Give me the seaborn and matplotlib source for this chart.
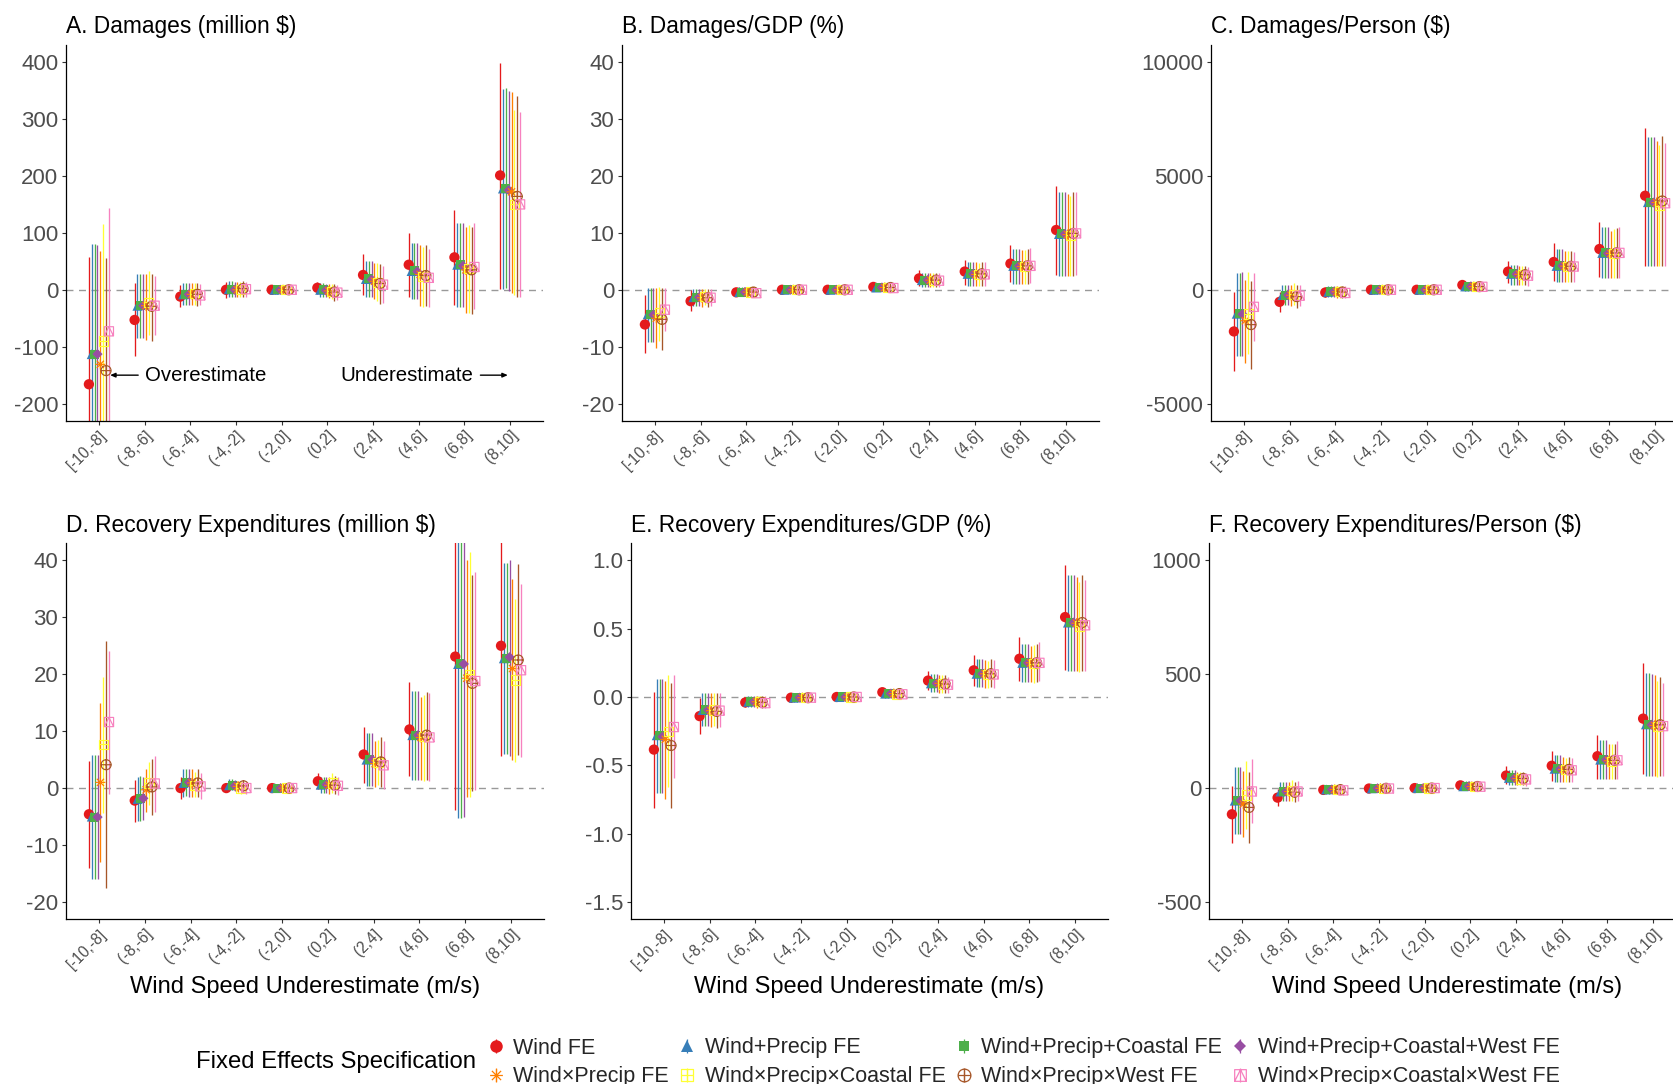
import numpy as np
import pandas as pd
import matplotlib
matplotlib.use("Agg")
import matplotlib.pyplot as plt
from matplotlib.path import Path
from matplotlib.lines import Line2D
import seaborn as sns

# ---------------- data ----------------
categories = ["[-10,-8]", "(-8,-6]", "(-6,-4]", "(-4,-2]", "(-2,0]",
              "(0,2]", "(2,4]", "(4,6]", "(6,8]", "(8,10]"]
series = ["Wind FE", "Wind+Precip FE", "Wind+Precip+Coastal FE", "Wind+Precip+Coastal+West FE",
          "Wind\u00d7Precip FE", "Wind\u00d7Precip\u00d7Coastal FE", "Wind\u00d7Precip\u00d7West FE",
          "Wind\u00d7Precip\u00d7Coastal\u00d7West FE"]
colors = ["#E41A1C", "#377EB8", "#4DAF4A", "#984EA3", "#FF7F00", "#FFFF33", "#A65628", "#F781BF"]

# Panel A: Damages (million $)  rows = series, cols = categories
A_est = [[-166, -53, -12, 0, 0, 3.5, 26, 44, 57, 201],
         [-113, -28, -8, 1, 0, 0, 19, 33, 44, 178],
         [-113, -28, -8, 1, 0, 0, 19, 33, 44, 178],
         [-113, -28, -8, 0, 0, -1, 18, 32, 42, 175],
         [-131, -28, -8, 0, 0, -2, 15, 27, 35, 172],
         [-90, -22, -7, 1, 0, -3, 13, 24, 38, 150],
         [-142, -29, -8, 2, 0, -4, 11, 25, 35, 164],
         [-73, -28, -10, 1, 0, -5, 9, 21, 40, 150]]
A_lo = [[-389, -117, -30, -14, -8, -8, -9, -12, -26, 2],
        [-306, -85, -26, -13, -8, -12, -12, -17, -30, 2],
        [-306, -85, -26, -13, -8, -12, -12, -17, -30, 3],
        [-304, -85, -26, -13, -8, -13, -13, -17, -31, -2],
        [-330, -88, -27, -13, -8, -15, -17, -28, -40, -5],
        [-296, -80, -26, -12, -8, -16, -20, -30, -40, -10],
        [-339, -90, -28, -12, -8, -20, -25, -28, -42, -12],
        [-290, -80, -27, -12, -8, -18, -24, -30, -33, -12]]
A_hi = [[57, 12, 8, 14, 8, 14, 62, 100, 140, 398],
        [80, 28, 12, 15, 8, 12, 50, 83, 118, 353],
        [80, 28, 12, 15, 8, 12, 50, 83, 118, 354],
        [78, 28, 12, 14, 8, 11, 50, 83, 117, 350],
        [68, 27, 12, 14, 8, 11, 47, 78, 110, 348],
        [116, 33, 12, 14, 8, 11, 47, 75, 114, 315],
        [55, 27, 12, 16, 8, 10, 46, 78, 110, 340],
        [144, 24, 11, 14, 8, 9, 42, 72, 117, 312]]

# Panel B: Damages/GDP (%)
B_est = [[-6.1, -2.0, -0.45, 0.0, 0.0, 0.5, 2.0, 3.2, 4.6, 10.5],
         [-4.3, -1.3, -0.4, 0.0, 0.0, 0.4, 1.7, 2.8, 4.2, 9.8],
         [-4.3, -1.3, -0.4, 0.0, 0.0, 0.4, 1.7, 2.8, 4.2, 9.8],
         [-4.4, -1.3, -0.4, 0.0, 0.0, 0.4, 1.7, 2.8, 4.2, 9.8],
         [-5.0, -1.4, -0.4, 0.0, 0.0, 0.4, 1.7, 2.7, 4.1, 9.7],
         [-4.0, -1.2, -0.4, 0.0, 0.0, 0.4, 1.6, 2.7, 4.1, 9.6],
         [-5.2, -1.4, -0.4, 0.0, 0.0, 0.4, 1.7, 2.8, 4.2, 9.9],
         [-3.5, -1.4, -0.6, 0.0, 0.0, 0.3, 1.6, 2.7, 4.2, 9.9]]
B_lo = [[-11.1, -3.8, -1.1, -0.6, -0.5, -0.2, 0.6, 0.9, 1.3, 2.6],
        [-9.1, -2.8, -1.0, -0.5, -0.5, -0.2, 0.4, 0.7, 1.1, 2.5],
        [-9.1, -2.8, -1.0, -0.5, -0.5, -0.2, 0.4, 0.7, 1.1, 2.5],
        [-9.1, -2.8, -1.0, -0.5, -0.5, -0.2, 0.4, 0.7, 1.1, 2.5],
        [-10.2, -3.0, -1.1, -0.6, -0.5, -0.3, 0.4, 0.7, 1.1, 2.5],
        [-9.0, -2.6, -1.0, -0.6, -0.5, -0.3, 0.4, 0.7, 1.1, 2.5],
        [-10.6, -3.1, -1.1, -0.6, -0.5, -0.3, 0.4, 0.7, 1.1, 2.5],
        [-7.3, -2.9, -1.2, -0.6, -0.5, -0.3, 0.4, 0.7, 1.2, 2.6]]
B_hi = [[-1.0, -0.1, 0.3, 0.6, 0.5, 1.1, 3.4, 5.3, 7.8, 18.2],
        [0.35, 0.2, 0.4, 0.6, 0.5, 1.0, 3.0, 4.9, 7.2, 17.1],
        [0.35, 0.2, 0.4, 0.6, 0.5, 1.0, 3.0, 4.9, 7.2, 17.1],
        [0.3, 0.2, 0.4, 0.6, 0.5, 1.0, 3.0, 4.9, 7.2, 17.1],
        [0.3, 0.1, 0.4, 0.6, 0.5, 1.0, 3.0, 4.8, 7.0, 16.8],
        [0.4, 0.2, 0.4, 0.6, 0.5, 1.0, 3.0, 4.7, 7.0, 16.5],
        [0.3, 0.1, 0.4, 0.6, 0.5, 1.0, 3.0, 4.8, 7.2, 17.2],
        [0.3, 0.2, 0.3, 0.6, 0.5, 1.0, 3.0, 4.8, 7.3, 17.2]]

# Panel C: Damages/Person ($)
C_est = [[-1830, -530, -120, 0, 0, 210, 800, 1220, 1790, 4130],
         [-1050, -230, -90, 0, 0, 150, 700, 1050, 1620, 3850],
         [-1050, -230, -90, 0, 0, 150, 700, 1050, 1620, 3850],
         [-1070, -230, -90, 0, 0, 150, 690, 1050, 1600, 3830],
         [-1360, -240, -90, 0, 0, 140, 680, 1040, 1600, 3830],
         [-1060, -200, -90, 0, 0, 130, 660, 1030, 1580, 3700],
         [-1530, -300, -100, 0, 0, 140, 660, 1030, 1620, 3900],
         [-750, -260, -140, 0, 0, 130, 620, 1020, 1620, 3800]]
C_lo = [[-3570, -990, -330, -200, -200, -20, 280, 400, 560, 1050],
        [-2900, -680, -330, -200, -200, -60, 200, 350, 500, 1050],
        [-2900, -680, -330, -200, -200, -60, 200, 350, 500, 1050],
        [-2900, -680, -330, -200, -200, -60, 200, 350, 500, 1050],
        [-3200, -700, -340, -200, -200, -70, 200, 330, 500, 1050],
        [-2820, -680, -340, -200, -200, -70, 190, 330, 500, 1050],
        [-3470, -780, -340, -200, -200, -70, 190, 340, 520, 1050],
        [-2270, -700, -350, -200, -200, -70, 180, 340, 520, 1050]]
C_hi = [[-100, -90, 100, 200, 200, 380, 1280, 2050, 2980, 7100],
        [750, 220, 170, 200, 200, 360, 1100, 1780, 2750, 6700],
        [750, 220, 170, 200, 200, 360, 1100, 1780, 2750, 6700],
        [760, 220, 170, 200, 200, 360, 1100, 1780, 2750, 6700],
        [450, 220, 170, 200, 200, 340, 1050, 1700, 2600, 6550],
        [800, 280, 170, 200, 200, 340, 1050, 1700, 2650, 6350],
        [400, 200, 160, 200, 200, 340, 1050, 1720, 2700, 6750],
        [750, 200, 150, 200, 200, 330, 1000, 1650, 2750, 6450]]

# Panel D: Recovery Expenditures (million $)
D_est = [[-4.6, -2.2, 0.0, 0.0, 0.0, 1.2, 5.9, 10.3, 23.1, 25.0],
         [-5.0, -1.9, 0.9, 0.5, 0.0, 0.6, 5.0, 9.3, 21.8, 22.8],
         [-5.1, -1.8, 1.0, 0.5, 0.0, 0.6, 5.0, 9.3, 21.8, 22.8],
         [-5.1, -1.8, 1.0, 0.4, 0.0, 0.6, 5.0, 9.3, 21.8, 23.0],
         [1.0, -0.3, 0.9, 0.3, 0.0, 0.5, 4.3, 8.9, 19.3, 21.0],
         [7.7, 0.9, 0.5, 0.0, 0.0, 0.9, 4.5, 9.0, 20.0, 19.0],
         [4.1, 0.2, 0.9, 0.4, 0.0, 0.5, 4.6, 9.3, 18.4, 22.5],
         [11.6, 0.8, 0.3, 0.0, 0.0, 0.4, 4.0, 8.9, 18.8, 20.7]]
D_lo = [[-14.0, -5.9, -2.0, -0.6, -0.3, -0.2, 0.9, 2.1, -3.9, 5.6],
        [-16.0, -5.7, -1.5, -0.4, -0.6, -0.9, 0.4, 1.5, -5.2, 5.9],
        [-16.0, -5.7, -1.4, -0.4, -0.6, -0.9, 0.4, 1.5, -5.3, 5.9],
        [-16.0, -5.6, -1.5, -0.5, -0.6, -0.9, 0.4, 1.5, -5.0, 5.7],
        [-13.0, -4.2, -1.6, -0.7, -0.6, -1.0, 0.2, 1.5, -1.5, 4.9],
        [-4.4, -2.9, -1.6, -1.0, -0.6, -0.8, 0.5, 1.2, -1.5, 4.6],
        [-17.5, -4.8, -1.6, -0.5, -0.6, -1.0, 0.2, 1.4, -0.6, 5.8],
        [-1.0, -4.2, -1.9, -1.0, -0.6, -1.2, -0.2, 1.3, -0.4, 5.4]]
D_hi = [[4.7, 1.5, 2.0, 0.6, 0.3, 2.6, 10.8, 18.6, 50.0, 46.0],
        [5.8, 2.0, 3.4, 1.6, 0.6, 2.0, 9.6, 17.0, 48.0, 39.5],
        [5.8, 2.1, 3.4, 1.6, 0.6, 2.0, 9.6, 17.0, 48.0, 39.5],
        [5.8, 2.0, 3.4, 1.5, 0.6, 2.0, 9.6, 17.0, 48.0, 40.0],
        [14.9, 3.4, 3.3, 1.3, 0.6, 2.0, 8.3, 16.0, 40.1, 36.8],
        [19.6, 4.6, 2.8, 1.0, 0.6, 2.6, 8.4, 16.3, 41.4, 33.2],
        [25.8, 5.1, 3.4, 1.2, 0.6, 2.1, 8.9, 16.9, 37.4, 39.3],
        [24.0, 5.6, 2.6, 1.0, 0.6, 2.0, 8.3, 16.7, 38.0, 35.8]]

# Panel E: Recovery Expenditures/GDP (%)
E_est = [[-0.385, -0.14, -0.04, -0.005, 0.0, 0.035, 0.12, 0.195, 0.28, 0.585],
         [-0.28, -0.095, -0.035, -0.005, 0.0, 0.025, 0.10, 0.17, 0.25, 0.545],
         [-0.28, -0.095, -0.035, -0.005, 0.0, 0.025, 0.10, 0.17, 0.25, 0.545],
         [-0.29, -0.095, -0.035, -0.005, 0.0, 0.025, 0.10, 0.17, 0.25, 0.545],
         [-0.31, -0.10, -0.035, -0.005, 0.0, 0.025, 0.10, 0.17, 0.25, 0.54],
         [-0.25, -0.095, -0.035, -0.005, 0.0, 0.02, 0.095, 0.165, 0.245, 0.52],
         [-0.355, -0.105, -0.04, -0.005, 0.0, 0.025, 0.095, 0.17, 0.25, 0.545],
         [-0.22, -0.10, -0.045, -0.005, 0.0, 0.02, 0.09, 0.165, 0.25, 0.525]]
E_lo = [[-0.81, -0.27, -0.075, -0.035, -0.03, 0.005, 0.05, 0.08, 0.12, 0.20],
        [-0.70, -0.21, -0.075, -0.04, -0.03, -0.005, 0.035, 0.07, 0.11, 0.19],
        [-0.70, -0.21, -0.075, -0.04, -0.03, -0.005, 0.035, 0.07, 0.11, 0.19],
        [-0.70, -0.21, -0.075, -0.04, -0.03, -0.005, 0.035, 0.07, 0.11, 0.19],
        [-0.75, -0.22, -0.08, -0.04, -0.03, -0.005, 0.03, 0.065, 0.11, 0.19],
        [-0.66, -0.21, -0.075, -0.04, -0.03, -0.01, 0.03, 0.065, 0.105, 0.185],
        [-0.81, -0.23, -0.08, -0.04, -0.03, -0.005, 0.03, 0.07, 0.11, 0.19],
        [-0.59, -0.22, -0.08, -0.04, -0.03, -0.01, 0.03, 0.065, 0.115, 0.19]]
E_hi = [[0.04, -0.01, 0.0, 0.025, 0.03, 0.065, 0.19, 0.31, 0.44, 0.965],
        [0.13, 0.03, 0.01, 0.03, 0.03, 0.06, 0.17, 0.28, 0.39, 0.89],
        [0.13, 0.03, 0.01, 0.03, 0.03, 0.06, 0.17, 0.28, 0.39, 0.89],
        [0.13, 0.03, 0.01, 0.03, 0.03, 0.06, 0.17, 0.28, 0.39, 0.89],
        [0.12, 0.03, 0.01, 0.03, 0.03, 0.06, 0.16, 0.27, 0.37, 0.88],
        [0.16, 0.03, 0.01, 0.03, 0.03, 0.06, 0.16, 0.26, 0.38, 0.84],
        [0.10, 0.03, 0.01, 0.035, 0.03, 0.06, 0.16, 0.28, 0.39, 0.89],
        [0.16, 0.03, 0.005, 0.03, 0.03, 0.055, 0.15, 0.27, 0.40, 0.86]]

# Panel F: Recovery Expenditures/Person ($)
F_est = [[-115, -42, -8, -2, 0, 12, 55, 98, 140, 305],
         [-55, -15, -6, -1, 0, 8, 45, 85, 125, 280],
         [-55, -15, -6, -1, 0, 8, 45, 85, 125, 280],
         [-55, -15, -6, -1, 0, 8, 44, 84, 124, 278],
         [-70, -15, -6, -1, 0, 7, 42, 82, 120, 275],
         [-30, -12, -6, -1, 0, 7, 40, 80, 118, 270],
         [-85, -18, -7, -1, 0, 7, 42, 82, 122, 278],
         [-15, -15, -10, -2, 0, 6, 38, 78, 122, 272]]
F_lo = [[-240, -80, -25, -18, -15, -8, 18, 30, 40, 60],
        [-200, -55, -27, -18, -18, -10, 15, 28, 40, 55],
        [-200, -55, -27, -18, -18, -10, 15, 28, 40, 55],
        [-200, -55, -27, -18, -18, -10, 15, 28, 40, 55],
        [-215, -55, -28, -18, -18, -12, 12, 27, 38, 52],
        [-180, -55, -28, -18, -18, -12, 12, 26, 38, 50],
        [-240, -60, -28, -18, -18, -12, 12, 26, 38, 55],
        [-155, -55, -30, -20, -18, -12, 10, 25, 40, 55]]
F_hi = [[10, -5, 10, 15, 15, 30, 95, 165, 235, 550],
        [92, 28, 15, 18, 18, 30, 78, 145, 210, 505],
        [92, 28, 15, 18, 18, 30, 78, 145, 210, 505],
        [92, 28, 15, 18, 18, 30, 78, 145, 210, 500],
        [75, 28, 15, 18, 18, 28, 72, 135, 195, 495],
        [120, 35, 15, 18, 18, 28, 70, 130, 195, 470],
        [70, 25, 15, 18, 18, 28, 72, 135, 195, 490],
        [128, 30, 12, 16, 18, 26, 68, 130, 205, 460]]

titles = ["A. Damages (million $)", "B. Damages/GDP (%)", "C. Damages/Person ($)",
          "D. Recovery Expenditures (million $)", "E. Recovery Expenditures/GDP (%)",
          "F. Recovery Expenditures/Person ($)"]
yticks_A = [-200, -100, 0, 100, 200, 300, 400]
yticks_B = [-20, -10, 0, 10, 20, 30, 40]
yticks_C = [-5000, 0, 5000, 10000]
yticks_D = [-20, -10, 0, 10, 20, 30, 40]
yticks_E = [-1.5, -1.0, -0.5, 0.0, 0.5, 1.0]
yticks_F = [-500, 0, 500, 1000]
xlabel = "Wind Speed Underestimate (m/s)"
legend_title = "Fixed Effects Specification"

# ---------------- style ----------------
sns.set_style("ticks")
plt.rcParams["font.family"] = ["Liberation Sans", "DejaVu Sans"]
plt.rcParams["axes.unicode_minus"] = False

W, H = 1673, 1084
fig = plt.figure(figsize=(W / 100, H / 100), dpi=100)


def seg(a, b):
    return Path([a, b], [Path.MOVETO, Path.LINETO])


square = Path([(-1, -1), (1, -1), (1, 1), (-1, 1), (-1, -1)],
              [Path.MOVETO, Path.LINETO, Path.LINETO, Path.LINETO, Path.CLOSEPOLY])
asterisk = Path.make_compound_path(seg((-1, 0), (1, 0)), seg((0, -1), (0, 1)),
                                   seg((-0.72, -0.72), (0.72, 0.72)), seg((-0.72, 0.72), (0.72, -0.72)))
sq_plus = Path.make_compound_path(square, seg((-1, 0), (1, 0)), seg((0, -1), (0, 1)))
circ_plus = Path.make_compound_path(Path.unit_circle(), seg((-1, 0), (1, 0)), seg((0, -1), (0, 1)))
sq_tri = Path.make_compound_path(square, Path([(-1, -1), (0, 1), (1, -1)],
                                              [Path.MOVETO, Path.LINETO, Path.LINETO]))
markers = ["o", "^", "s", "D", asterisk, sq_plus, circ_plus, sq_tri]
filled = [True, True, True, True, False, False, False, False]
msize = [55, 52, 42, 27, 52, 44, 52, 44]
leg_msize = [9.0, 9.0, 7.8, 6.4, 9.2, 8.4, 9.2, 8.4]

dodge = 0.0625
TICK_GRAY = "#4D4D4D"


def panel(rect_px, est, lo, hi, title, yticks, ylim, fmt, show_xlabel):
    l, t, r, b = rect_px
    ax = fig.add_axes([l / W, 1 - b / H, (r - l) / W, (b - t) / H])
    x0 = np.arange(len(categories))
    ax.axhline(0, color="#999999", lw=1.0, ls=(0, (5, 4)), zorder=1)
    for i in range(len(series)):
        xs = x0 + (i - 3.5) * dodge
        ax.vlines(xs, lo[i], hi[i], color=colors[i], lw=0.95, zorder=2)
    for i in range(len(series)):
        xs = x0 + (i - 3.5) * dodge
        df = pd.DataFrame({"x": xs, "y": est[i]})
        if filled[i]:
            sns.scatterplot(data=df, x="x", y="y", ax=ax, marker=markers[i], s=msize[i],
                            color=colors[i], edgecolor="none", linewidth=0,
                            legend=False, zorder=3)
        else:
            sns.scatterplot(data=df, x="x", y="y", ax=ax, marker=markers[i], s=msize[i],
                            facecolor="none", edgecolor=colors[i], linewidth=0.85,
                            legend=False, zorder=3)
    ax.set_xlim(-0.72, 9.72)
    ax.set_ylim(*ylim)
    ax.set_xticks(x0)
    ax.set_xticklabels(categories, rotation=45, ha="right", va="top",
                       rotation_mode="anchor", fontsize=11.2, color=TICK_GRAY)
    ax.set_yticks(yticks)
    ax.set_yticklabels([fmt.format(v) for v in yticks], fontsize=16, color=TICK_GRAY)
    ax.tick_params(axis="both", length=2.6, width=0.8, color="#333333", pad=3)
    ax.tick_params(axis="x", pad=2.5)
    for s in ["top", "right"]:
        ax.spines[s].set_visible(False)
    for s in ["left", "bottom"]:
        ax.spines[s].set_linewidth(0.9)
        ax.spines[s].set_color("black")
    ax.set_ylabel("")
    if show_xlabel:
        ax.set_xlabel(xlabel, fontsize=17, color="black")
        ax.xaxis.set_label_coords(0.5, -(987 - b) / (b - t))
        ax.xaxis.label.set_va("center")
    else:
        ax.set_xlabel("")
    ax.set_title(title, loc="left", fontsize=16.4, pad=8.4, color="black")
    return ax


axA = panel((66, 45, 543, 420.7), A_est, A_lo, A_hi, titles[0], yticks_A, (-230, 430), "{:d}", False)
axB = panel((622, 45, 1099, 420.7), B_est, B_lo, B_hi, titles[1], yticks_B, (-23, 43), "{:d}", False)
axC = panel((1211, 45, 1688, 420.7), C_est, C_lo, C_hi, titles[2], yticks_C, (-5750, 10750), "{:d}", False)
axD = panel((66, 543.3, 544, 919), D_est, D_lo, D_hi, titles[3], yticks_D, (-23, 43), "{:d}", True)
axE = panel((631, 543.3, 1108, 919), E_est, E_lo, E_hi, titles[4], yticks_E, (-1.625, 1.125), "{:.1f}", True)
axF = panel((1209, 543.3, 1686, 919), F_est, F_lo, F_hi, titles[5], yticks_F, (-575, 1075), "{:d}", True)

# annotations in panel A
axA.annotate("", xy=(0.245, -150), xytext=(0.86, -150),
             arrowprops=dict(arrowstyle="-|>,head_length=0.3,head_width=0.13",
                             color="black", lw=1.0, shrinkA=0, shrinkB=0))
axA.text(1.0, -150, "Overestimate", ha="left", va="center", fontsize=14.7, color="black")
axA.text(8.2, -150, "Underestimate", ha="right", va="center", fontsize=14.7, color="black")
axA.annotate("", xy=(8.95, -150), xytext=(8.35, -150),
             arrowprops=dict(arrowstyle="-|>,head_length=0.3,head_width=0.13",
                             color="black", lw=1.0, shrinkA=0, shrinkB=0))

# legend
handles = []
for i in range(len(series)):
    vline = Line2D([], [], linestyle="none", marker="|", markersize=10.5,
                   markeredgewidth=0.9, color=colors[i])
    if filled[i]:
        mk = Line2D([], [], linestyle="none", marker=markers[i], markersize=leg_msize[i],
                    color=colors[i], markeredgewidth=0)
    else:
        mk = Line2D([], [], linestyle="none", marker=markers[i], markersize=leg_msize[i],
                    markerfacecolor="none", markeredgecolor=colors[i], markeredgewidth=0.9)
    handles.append((vline, mk))
order = [0, 4, 1, 5, 2, 6, 3, 7]
fig.legend([handles[k] for k in order], [series[k] for k in order], ncol=4,
           loc="upper left", bbox_to_anchor=(485 / W, 1 - 1037.5 / H), frameon=False,
           handlelength=1.0, handletextpad=0.32, columnspacing=0.34, labelspacing=0.36,
           borderpad=0, borderaxespad=0, fontsize=15.5)
fig.text(196 / W, 1 - 1062 / H, legend_title, ha="left", va="center", fontsize=17.2, color="black")

fig.savefig("out.png", dpi=100)
